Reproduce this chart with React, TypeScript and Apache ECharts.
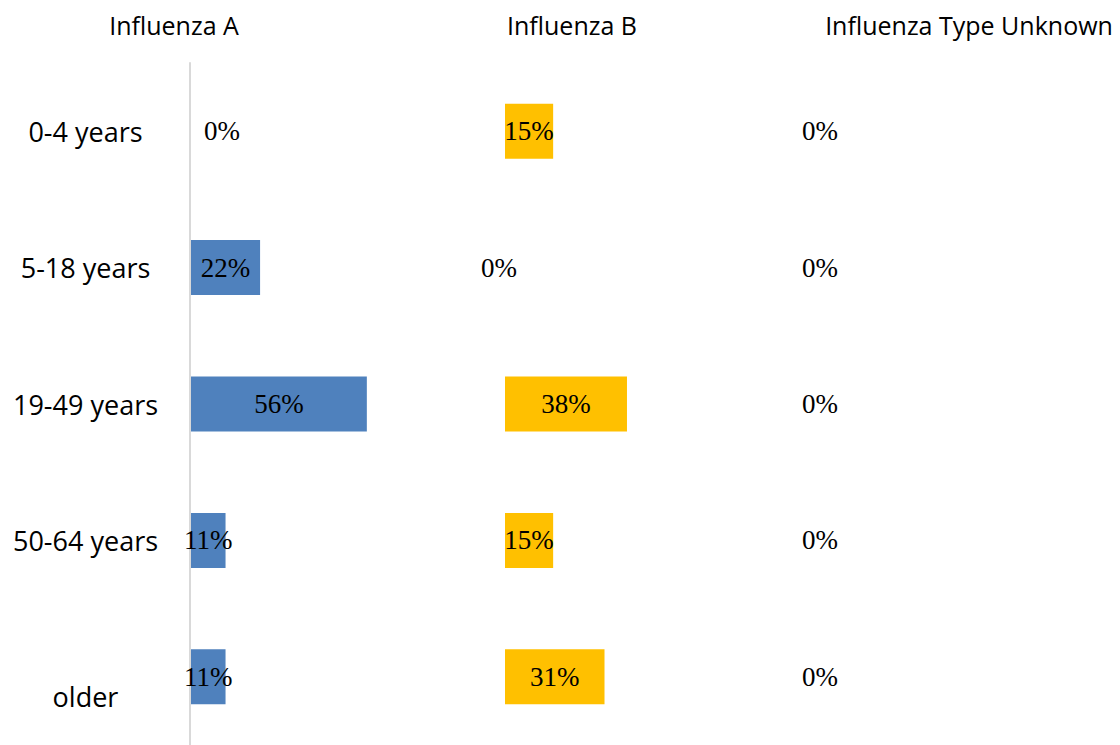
import React, { useEffect, useRef } from "react";
import * as echarts from "echarts";

const categories = ["0-4 years", "5-18 years", "19-49 years", "50-64 years", "older"];
const panelTitles = ["Influenza A", "Influenza B", "Influenza Type Unknown"];
const influenzaA = [0, 22, 56, 11, 11];
const influenzaB = [15, 0, 38, 15, 31];
const influenzaUnknown = [0, 0, 0, 0, 0];

const seriesValues = [influenzaA, influenzaB, influenzaUnknown];
const colors = ["#4F81BD", "#FFC000", "#A5A5A5"];
const gridLefts = [191, 505, 820];
const gridWidths = [314, 321, 300];
const titleCenters = [174, 572, 969];
const zeroLabelShift = [31, -6, 0];

export default function App() {
  const ref = useRef<HTMLDivElement>(null);
  useEffect(() => {
    if (!ref.current) return;
    const chart = echarts.init(ref.current, null, { renderer: "svg" });
    const grids = gridLefts.map((l, i) => ({
      left: l,
      width: gridWidths[i],
      top: 63,
      height: 685,
      containLabel: false,
    }));
    const xAxes = gridLefts.map((_, i) => ({
      type: "value",
      gridIndex: i,
      min: 0,
      max: 100,
      show: false,
    }));
    const yAxes = gridLefts.map((_, i) => ({
      type: "category",
      gridIndex: i,
      data: categories,
      inverse: true,
      show: i === 0,
      axisLine: { show: i === 0, lineStyle: { color: "#D9D9D9", width: 2 }, onZero: false },
      axisTick: { show: false },
      splitLine: { show: false },
      offset: i === 0 ? 1.5 : 0,
      axisLabel: {
        show: i === 0,
        align: "center",
        margin: 104,
        fontFamily: "Open Sans",
        fontSize: 27,
        lineHeight: 40,
        color: "#000",
        formatter: (v: string, idx: number) => (idx === categories.length - 1 ? "\n" + v : v),
      },
    }));
    const series = seriesValues.map((vals, i) => ({
      type: "bar",
      name: panelTitles[i],
      xAxisIndex: i,
      yAxisIndex: i,
      barWidth: 55,
      itemStyle: { color: colors[i] },
      label: {
        show: true,
        position: "inside",
        formatter: "{c}%",
        fontFamily: "Liberation Serif",
        fontSize: 27,
        color: "#000",
      },
      data: vals.map((v) =>
        v === 0 ? { value: v, label: { offset: [zeroLabelShift[i], 0] } } : v
      ),
    }));
    chart.setOption({
      animation: false,
      backgroundColor: "#fff",
      grid: grids,
      xAxis: xAxes,
      yAxis: yAxes,
      series,
      graphic: panelTitles.map((t, i) => ({
        type: "text",
        x: titleCenters[i],
        y: 25,
        style: {
          text: t,
          fontFamily: "Open Sans",
          fontSize: 25,
          fill: "#000",
          align: "center",
          verticalAlign: "middle",
        },
      })),
    });
    return () => chart.dispose();
  }, []);
  return (
    <div
      ref={ref}
      style={{ position: "fixed", left: 0, top: 0, width: 1120, height: 745 }}
    />
  );
}
